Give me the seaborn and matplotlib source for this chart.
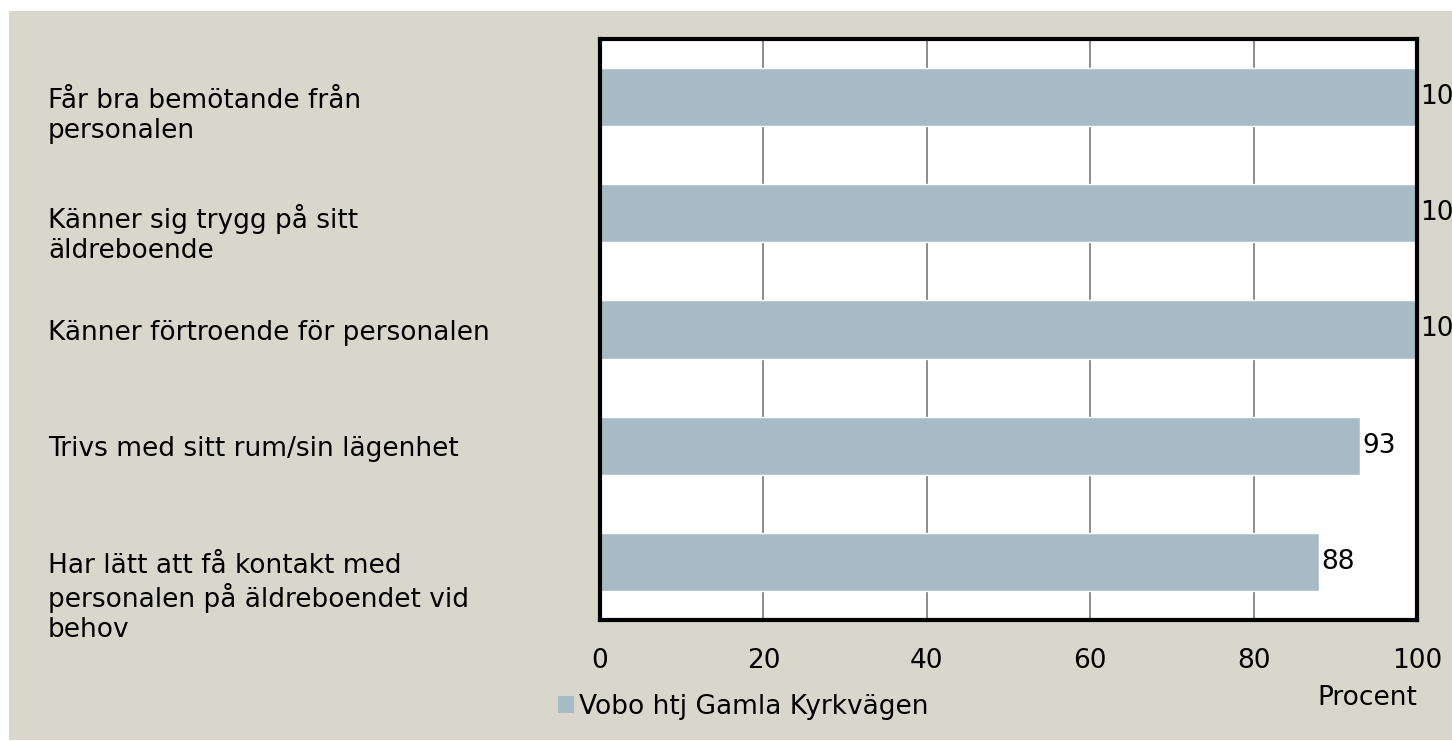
import matplotlib
matplotlib.use("Agg")
import matplotlib.pyplot as plt
import matplotlib.transforms as mtransforms
import seaborn as sns
from matplotlib.patches import Rectangle

# data
categories = [
    "Får bra bemötande från\npersonalen",
    "Känner sig trygg på sitt\näldreboende",
    "Känner förtroende för personalen",
    "Trivs med sitt rum/sin lägenhet",
    "Har lätt att få kontakt med\npersonalen på äldreboendet vid\nbehov",
]
values = [100, 100, 100, 93, 88]
series_name = "Vobo htj Gamla Kyrkvägen"
x_ticks = [0, 20, 40, 60, 80, 100]

bar_color = "#A7BBC6"
panel_color = "#D9D7CB"

sns.set_style("white")
plt.rcParams["font.family"] = ["DejaVu Sans"]
plt.rcParams["text.color"] = "black"
plt.rcParams["xtick.color"] = "black"
plt.rcParams["axes.labelcolor"] = "black"

fig = plt.figure(figsize=(14.52, 7.41), dpi=100, facecolor="white")
# beige chart panel
fig.patches.append(Rectangle((9 / 1452, 1 / 741), 1, 729 / 741,
                             transform=fig.transFigure, facecolor=panel_color,
                             edgecolor="none", zorder=-10))

ax = fig.add_axes([600 / 1452, 1 - 620 / 741, 817 / 1452, 581 / 741])
ax.set_facecolor("white")

sns.barplot(x=values, y=categories, orient="h", color=bar_color,
            width=0.5, saturation=1, label=series_name, ax=ax, zorder=3)
for p in ax.patches:
    p.set_clip_on(False)

ax.set_xlim(0, 100)
ax.set_ylim(4.5, -0.5)
ax.set_xticks(x_ticks)
ax.set_xticklabels([str(t) for t in x_ticks], fontsize=19)
ax.xaxis.grid(True, color="#8C8C8C", linewidth=1.4, zorder=0)
ax.yaxis.grid(False)
ax.set_axisbelow(True)

ax.tick_params(axis="x", length=0, pad=20)
ax.tick_params(axis="y", length=0, labelleft=False)

# category labels, left aligned in the panel, first line level with the bar
trans = mtransforms.blended_transform_factory(fig.transFigure, ax.transData)
for i, cat in enumerate(categories):
    fig.text(48 / 1452, i - 0.08, cat, transform=trans, ha="left", va="top",
             fontsize=19, linespacing=1.2, color="black")

for s in ax.spines.values():
    s.set_visible(True)
    s.set_color("black")
    s.set_linewidth(3)
    s.set_zorder(4)

ax.bar_label(ax.containers[0], labels=[str(v) for v in values],
             padding=2, fontsize=19, clip_on=False, color="black")

ax.set_ylabel("")
ax.set_xlabel("Procent", fontsize=19, loc="right", labelpad=8)

handles, labels = ax.get_legend_handles_labels()
if ax.get_legend() is not None:
    ax.get_legend().remove()
leg = fig.legend(handles, labels, loc="center left",
                 bbox_to_anchor=(545 / 1452, 1 - 707 / 741), frameon=False,
                 fontsize=19, handlelength=0.6, handleheight=0.6,
                 handletextpad=0.2, borderpad=0)
for h in leg.legend_handles:
    h.set_edgecolor("none")

fig.savefig("out.png", dpi=100, facecolor=fig.get_facecolor())
